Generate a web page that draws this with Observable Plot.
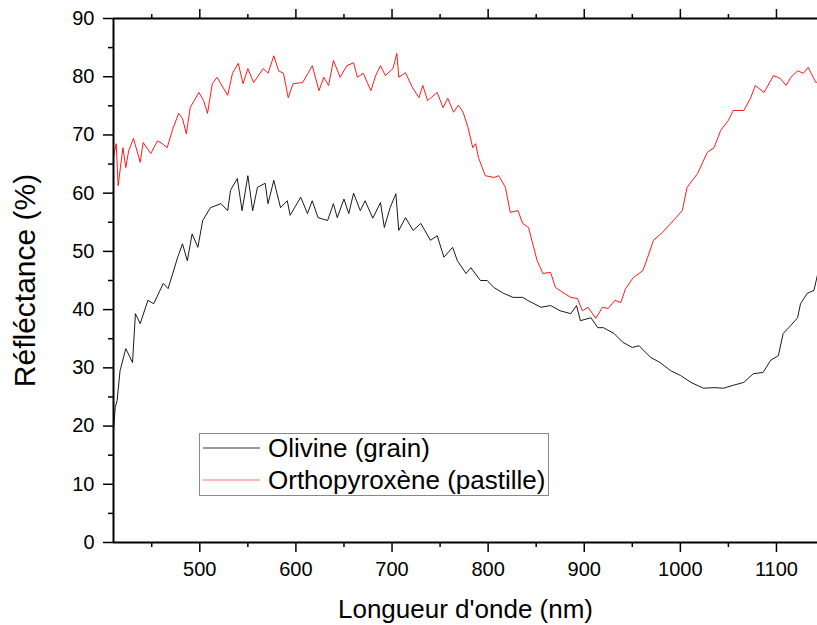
<!DOCTYPE html>
<html>
<head>
<meta charset="utf-8">
<script src="https://cdn.jsdelivr.net/npm/d3@7"></script>
<script src="https://cdn.jsdelivr.net/npm/@observablehq/plot@0.6"></script>
<style>
  html, body { margin: 0; padding: 0; background: #fff; }
  #chart svg { display: block; }
</style>
</head>
<body>
<div id="chart"></div>
<script>
// ---- data ----
const xDomain = [410.2, 1142.7];
const yDomain = [0, 90];
const xMajorTicks = [500, 600, 700, 800, 900, 1000, 1100];
const xMinorTicks = [450, 550, 650, 750, 850, 950, 1050];
const yMajorTicks = [0, 10, 20, 30, 40, 50, 60, 70, 80, 90];
const yMinorTicks = [5, 15, 25, 35, 45, 55, 65, 75, 85];
const seriesNames = ["Olivine (grain)", "Orthopyroxène (pastille)"];
const seriesColors = ["#000000", "#ff0000"];

const olivineWavelength = [410,412,414,417,423,430,433,438,446,452,462,467,477,482,487,492,498,503,511,522,529,532,539,544,550,555,560,568,571,577,584,591,594,605,612,617,623,633,639,643,650,655,660,667,672,680,688,692,698,704,707,714,722,730,740,747,754,763,768,777,782,792,799,806,816,826,836,841,855,865,875,886,892,896,907,914,920,931,940,950,957,969,979,990,1000,1011,1024,1035,1045,1055,1066,1076,1086,1094,1102,1107,1115,1122,1125,1132,1139,1143];
const olivineReflectance = [18.7,23.2,24.4,29.5,33.3,30.9,39.3,37.6,41.6,41.0,44.5,43.6,49.0,51.3,48.4,53.0,50.7,55.3,57.5,58.2,57.0,60.5,62.5,57.0,63.0,57.0,61.0,61.7,58.2,62.2,57.5,58.7,56.2,59.3,56.5,58.7,55.8,55.3,58.2,55.8,59.0,56.5,60.0,57.0,58.7,55.7,58.4,54.1,57.5,59.9,53.6,55.8,53.6,54.8,51.9,52.7,49.0,50.7,48.4,46.2,47.2,45.0,45.0,43.8,42.8,42.1,42.1,41.6,40.4,40.7,39.8,39.3,40.7,38.1,38.6,36.9,36.9,35.9,34.4,33.5,33.8,31.8,30.9,29.5,28.7,27.5,26.5,26.6,26.5,27.0,27.5,29.0,29.2,31.3,32.1,35.9,37.3,38.6,41.0,42.8,43.3,46.2];

const orthoWavelength = [410,413,415,420,423,426,431,438,441,449,456,461,466,472,478,482,486,490,499,504,508,513,518,524,529,534,540,545,550,556,566,571,577,582,587,592,597,607,617,624,629,634,639,646,653,660,664,670,678,683,688,693,701,705,707,714,721,728,732,737,747,753,758,764,769,774,779,784,787,790,797,806,811,818,823,831,836,842,851,857,865,870,879,886,893,898,904,912,919,925,932,938,943,951,961,966,972,981,990,1002,1007,1018,1028,1035,1042,1050,1055,1066,1073,1078,1087,1097,1104,1110,1115,1122,1128,1133,1141,1143];
const orthoReflectance = [66.1,68.5,61.3,67.8,64.4,67.3,69.4,65.3,68.7,66.8,69.0,68.5,67.8,71.1,73.7,72.8,70.2,74.7,77.3,75.9,73.7,78.8,79.9,78.2,76.8,80.6,82.3,78.8,81.4,79.0,81.4,80.6,83.6,81.0,80.6,76.4,78.8,79.0,81.9,77.6,79.9,78.5,82.8,79.9,81.9,82.4,79.9,80.6,77.6,80.2,81.9,80.2,81.4,84.0,79.9,80.7,78.2,76.4,78.5,75.9,77.3,74.7,76.3,73.9,75.1,73.9,71.3,67.8,68.5,66.1,63.0,62.7,63.0,61.0,56.7,57.0,54.8,54.1,48.4,46.2,46.4,43.8,42.8,42.1,41.9,39.8,40.4,38.5,40.4,40.2,41.6,41.2,43.6,45.5,46.7,49.0,51.9,53.2,54.8,57.0,61.0,63.4,67.0,67.8,70.8,72.5,74.2,74.2,76.3,78.5,77.3,80.2,79.7,78.5,79.9,81.0,80.6,81.6,79.0,79.2];

const olivine = olivineWavelength.map((w, i) => ({w, r: olivineReflectance[i]}));
const ortho = orthoWavelength.map((w, i) => ({w, r: orthoReflectance[i]}));

const FONT = "'Liberation Sans', Arial, sans-serif";

const chart = Plot.plot({
  width: 817,
  height: 625,
  marginLeft: 113,
  marginRight: 0,
  marginTop: 18,
  marginBottom: 83,
  style: {fontFamily: FONT, color: "#000", background: "#fff", overflow: "visible"},
  x: {domain: xDomain},
  y: {domain: yDomain},
  marks: [
    Plot.line(olivine, {x: "w", y: "r", stroke: seriesColors[0], strokeWidth: 0.9, clip: true}),
    Plot.line(ortho, {x: "w", y: "r", stroke: seriesColors[1], strokeWidth: 0.9, clip: true}),
    // bottom axis
    Plot.axisX({anchor: "bottom", ticks: xMajorTicks, tickFormat: d3.format("d"), tickSize: 10, tickPadding: 9, strokeWidth: 1.5, fontSize: 20, label: null}),
    Plot.axisX({anchor: "bottom", ticks: xMinorTicks, tickSize: 5, strokeWidth: 1.5, text: null, label: null}),
    // top axis (ticks only)
    Plot.axisX({anchor: "top", ticks: xMajorTicks, tickSize: 10, strokeWidth: 1.5, text: null, label: null}),
    Plot.axisX({anchor: "top", ticks: xMinorTicks, tickSize: 5, strokeWidth: 1.5, text: null, label: null}),
    // left axis
    Plot.axisY({anchor: "left", ticks: yMajorTicks, tickFormat: d3.format("d"), tickSize: 10, tickPadding: 9, strokeWidth: 1.5, fontSize: 20, label: null}),
    Plot.axisY({anchor: "left", ticks: yMinorTicks, tickSize: 5, strokeWidth: 1.5, text: null, label: null}),
    // axis lines
    Plot.ruleY([yDomain[0]], {stroke: "#000", strokeWidth: 2}),
    Plot.ruleY([yDomain[1]], {stroke: "#000", strokeWidth: 2}),
    Plot.ruleX([xDomain[0]], {stroke: "#000", strokeWidth: 2}),
    // axis titles
    Plot.text(["Longueur d'onde (nm)"], {frameAnchor: "bottom", dy: 75, lineAnchor: "bottom", textAnchor: "middle", fontSize: 26, fill: "#000"}),
    Plot.text(["Réfléctance (%)"], {frameAnchor: "left", dx: -88, rotate: -90, textAnchor: "middle", lineAnchor: "middle", fontSize: 30, fill: "#000"})
  ]
});

document.getElementById("chart").appendChild(chart);

// legend box inside the plot area
const svg = d3.select(chart);
const lg = svg.append("g").attr("font-family", FONT).attr("text-anchor", "start");
lg.append("rect").attr("x", 199.5).attr("y", 433.5).attr("width", 349).attr("height", 62)
  .attr("fill", "#fff").attr("stroke", "#888").attr("stroke-width", 1);
seriesNames.forEach((name, i) => {
  const yy = 448 + i * 32;
  lg.append("line").attr("x1", 203).attr("x2", 260).attr("y1", yy).attr("y2", yy)
    .attr("stroke", seriesColors[i]).attr("stroke-width", 1).attr("stroke-opacity", i ? 0.55 : 0.8);
  lg.append("text").attr("x", 268).attr("y", yy + 9).attr("font-size", 26)
    .attr("text-anchor", "start").attr("fill", "#000").text(name);
});
</script>
</body>
</html>
